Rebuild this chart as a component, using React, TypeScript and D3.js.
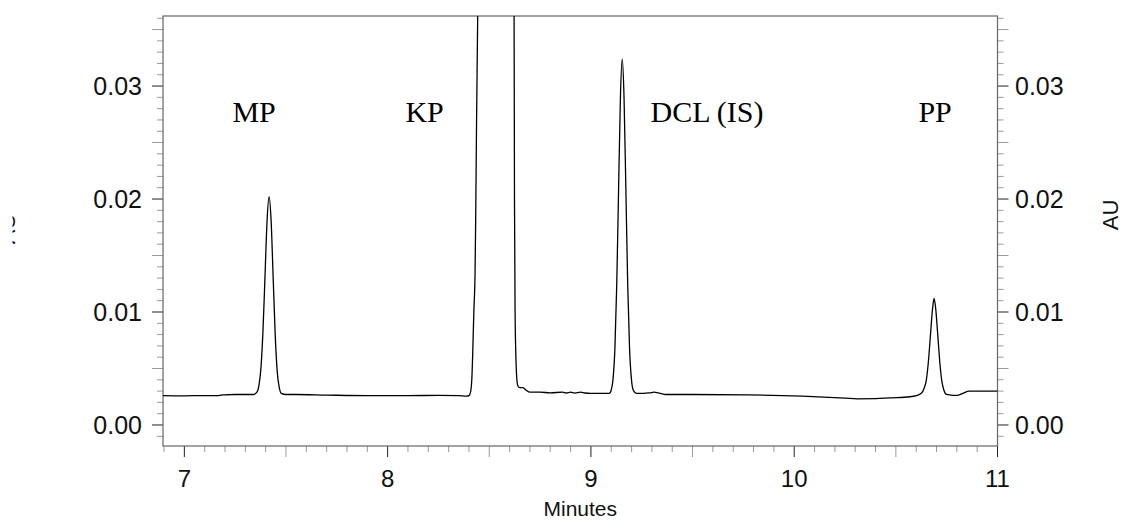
import React from "react";
import * as d3 from "d3";

// Chromatogram trace, minutes vs absorbance (AU), split by retention region.
const leadIn: [number, number][] = [
  [6.895, 0.0026], [7.0, 0.00258], [7.1, 0.0026], [7.17, 0.0026], [7.19, 0.00267],
  [7.25, 0.0027], [7.3, 0.0027], [7.34, 0.0027],
];
const mpPeak: [number, number][] = [
  [7.357, 0.0029], [7.367, 0.0035], [7.377, 0.0051], [7.387, 0.0084], [7.397, 0.0133],
  [7.407, 0.0181], [7.417, 0.0202], [7.427, 0.018], [7.437, 0.013], [7.447, 0.008],
  [7.457, 0.0047], [7.467, 0.0033], [7.477, 0.0028], [7.5, 0.0027],
];
const midBaseline: [number, number][] = [
  [7.55, 0.0027], [7.7, 0.00265], [7.9, 0.0026], [8.1, 0.0026], [8.25, 0.00262],
  [8.35, 0.0026], [8.39, 0.00255],
];
const kpPeak: [number, number][] = [
  [8.4, 0.0026], [8.408, 0.0029], [8.412, 0.0035], [8.414, 0.004], [8.418, 0.006],
  [8.424, 0.01], [8.43, 0.0134], [8.433, 0.018], [8.437, 0.026], [8.443, 0.0362],
  [8.46, 0.065], [8.49, 0.15], [8.53, 0.25], [8.57, 0.15], [8.6, 0.07], [8.615, 0.045],
  [8.622, 0.0362], [8.624, 0.02], [8.627, 0.01], [8.631, 0.006], [8.635, 0.0042],
  [8.64, 0.0035], [8.65, 0.0033], [8.665, 0.0033], [8.68, 0.0031], [8.7, 0.0029],
];
const preDcl: [number, number][] = [
  [8.75, 0.0029], [8.8, 0.00285], [8.86, 0.0029], [8.88, 0.00283], [8.9, 0.0029],
  [8.92, 0.00282], [8.95, 0.0029], [8.97, 0.00283], [9.0, 0.0028], [9.05, 0.0028],
  [9.09, 0.0028],
];
const dclPeak: [number, number][] = [
  [9.1, 0.0031], [9.109, 0.0041], [9.118, 0.0068], [9.127, 0.0124], [9.136, 0.0208],
  [9.145, 0.0289], [9.154, 0.0324], [9.163, 0.0289], [9.172, 0.0208], [9.181, 0.0124],
  [9.19, 0.0068], [9.199, 0.0041], [9.208, 0.0031], [9.225, 0.0028],
];
const tailBaseline: [number, number][] = [
  [9.26, 0.0028], [9.29, 0.00285], [9.31, 0.0029], [9.33, 0.00285], [9.37, 0.0027],
  [9.5, 0.0027], [9.77, 0.00267], [10.04, 0.00255], [10.25, 0.00238], [10.31, 0.00232],
  [10.4, 0.00233], [10.47, 0.0024], [10.57, 0.0025],
];
const ppPeak: [number, number][] = [
  [10.6, 0.0026], [10.625, 0.0028], [10.64, 0.0033], [10.65, 0.004], [10.66, 0.0056],
  [10.67, 0.0079], [10.68, 0.0102], [10.688, 0.0112], [10.696, 0.0103], [10.706, 0.008],
  [10.716, 0.0056], [10.726, 0.0039], [10.736, 0.0031], [10.75, 0.0027], [10.77, 0.00265],
  [10.8, 0.00262], [10.83, 0.0028], [10.86, 0.003], [10.93, 0.003], [11.0, 0.003],
];

const trace = [
  ...leadIn, ...mpPeak, ...midBaseline, ...kpPeak, ...preDcl, ...dclPeak, ...tailBaseline, ...ppPeak,
];

const xTickLabels = [7, 8, 9, 10, 11];
const yTickLabels = [0.0, 0.01, 0.02, 0.03];

const peakNames = ["MP", "KP", "DCL (IS)", "PP"];
const peakLabelTimes = [7.343, 8.182, 9.571, 10.693];
const peakLabelLevel = 0.0268;

const W = 1125;
const H = 521;
const left = 163;
const right = 997.5;
const top = 16;
const bottom = 446;

export default function App() {
  const x = d3.scaleLinear().domain([6.895, 11.0]).range([left, right]);
  const y = d3.scaleLinear().domain([-0.00186, 0.0362]).range([bottom, top]);

  const line = d3
    .line<[number, number]>()
    .x((d) => x(d[0]))
    .y((d) => y(d[1]))
    .curve(d3.curveMonotoneX);

  const xMinor = d3.range(69, 111).map((i) => i / 10);
  const yMinor = d3.range(-1, 37).map((i) => i / 1000);

  const sans = "'Liberation Sans', Arial, sans-serif";
  const serif = "'Liberation Serif', 'Times New Roman', serif";
  const axisColor = "#666";
  const minorColor = "#9a9a9a";
  const majorColor = "#222";

  return (
    <svg
      width={W}
      height={H}
      style={{ position: "absolute", left: 0, top: 0, background: "#fff" }}
    >
      <defs>
        <clipPath id="plotArea">
          <rect x={left} y={top} width={right - left} height={bottom - top} />
        </clipPath>
        <clipPath id="edgeClip">
          <rect x={12.5} y={0} width={40} height={H} />
        </clipPath>
      </defs>

      {/* x-axis ticks */}
      {xMinor.map((t, i) => {
        const isMajor = Math.abs(t - Math.round(t)) < 1e-6;
        const isHalf = Math.abs(t * 2 - Math.round(t * 2)) < 1e-6 && !isMajor;
        const len = isMajor || isHalf ? 11 : 6;
        return (
          <line
            key={"xt" + i}
            x1={x(t)}
            x2={x(t)}
            y1={bottom}
            y2={bottom + len}
            stroke={isMajor ? majorColor : minorColor}
            strokeWidth={1}
          />
        );
      })}

      {/* y-axis ticks on both sides */}
      {yMinor.map((v, i) => {
        const k = Math.round(v * 1000);
        const isMajor = k % 10 === 0;
        const isHalf = k % 5 === 0 && !isMajor;
        const len = isMajor || isHalf ? 11 : 6;
        const col = isMajor ? majorColor : minorColor;
        return (
          <g key={"yt" + i}>
            <line x1={left - len} x2={left} y1={y(v)} y2={y(v)} stroke={col} strokeWidth={1} />
            <line x1={right} x2={right + len} y1={y(v)} y2={y(v)} stroke={col} strokeWidth={1} />
          </g>
        );
      })}

      {/* frame */}
      <rect
        x={left}
        y={top}
        width={right - left}
        height={bottom - top}
        fill="none"
        stroke={axisColor}
        strokeWidth={1.2}
      />

      {/* trace */}
      <path
        d={line(trace) ?? ""}
        fill="none"
        stroke="#000"
        strokeWidth={1.3}
        clipPath="url(#plotArea)"
      />

      {/* x tick labels */}
      {xTickLabels.map((t) => (
        <text
          key={"xl" + t}
          x={x(t)}
          y={487}
          textAnchor="middle"
          fontFamily={sans}
          fontSize={24}
          fill="#111"
        >
          {t}
        </text>
      ))}

      {/* y tick labels */}
      {yTickLabels.map((v) => (
        <g key={"yl" + v}>
          <text
            x={142}
            y={y(v)}
            dy="0.36em"
            textAnchor="end"
            fontFamily={sans}
            fontSize={25}
            fill="#111"
          >
            {v.toFixed(2)}
          </text>
          <text
            x={1015}
            y={y(v)}
            dy="0.36em"
            textAnchor="start"
            fontFamily={sans}
            fontSize={25}
            fill="#111"
          >
            {v.toFixed(2)}
          </text>
        </g>
      ))}

      {/* axis titles */}
      <text
        x={(left + right) / 2}
        y={516}
        textAnchor="middle"
        fontFamily={sans}
        fontSize={21}
        fill="#111"
      >
        Minutes
      </text>
      <text
        transform="translate(1118,215) rotate(-90)"
        textAnchor="middle"
        fontFamily={sans}
        fontSize={22}
        fill="#111"
      >
        AU
      </text>
      <g clipPath="url(#edgeClip)">
        <text
          transform="translate(15,229) rotate(-90)"
          textAnchor="middle"
          fontFamily={sans}
          fontSize={22}
          fill="#111"
        >
          AU
        </text>
      </g>

      {/* peak labels */}
      {peakNames.map((name, i) => (
        <text
          key={name}
          x={x(peakLabelTimes[i])}
          y={y(peakLabelLevel)}
          textAnchor="middle"
          fontFamily={serif}
          fontSize={30}
          fill="#000"
        >
          {name}
        </text>
      ))}
    </svg>
  );
}
